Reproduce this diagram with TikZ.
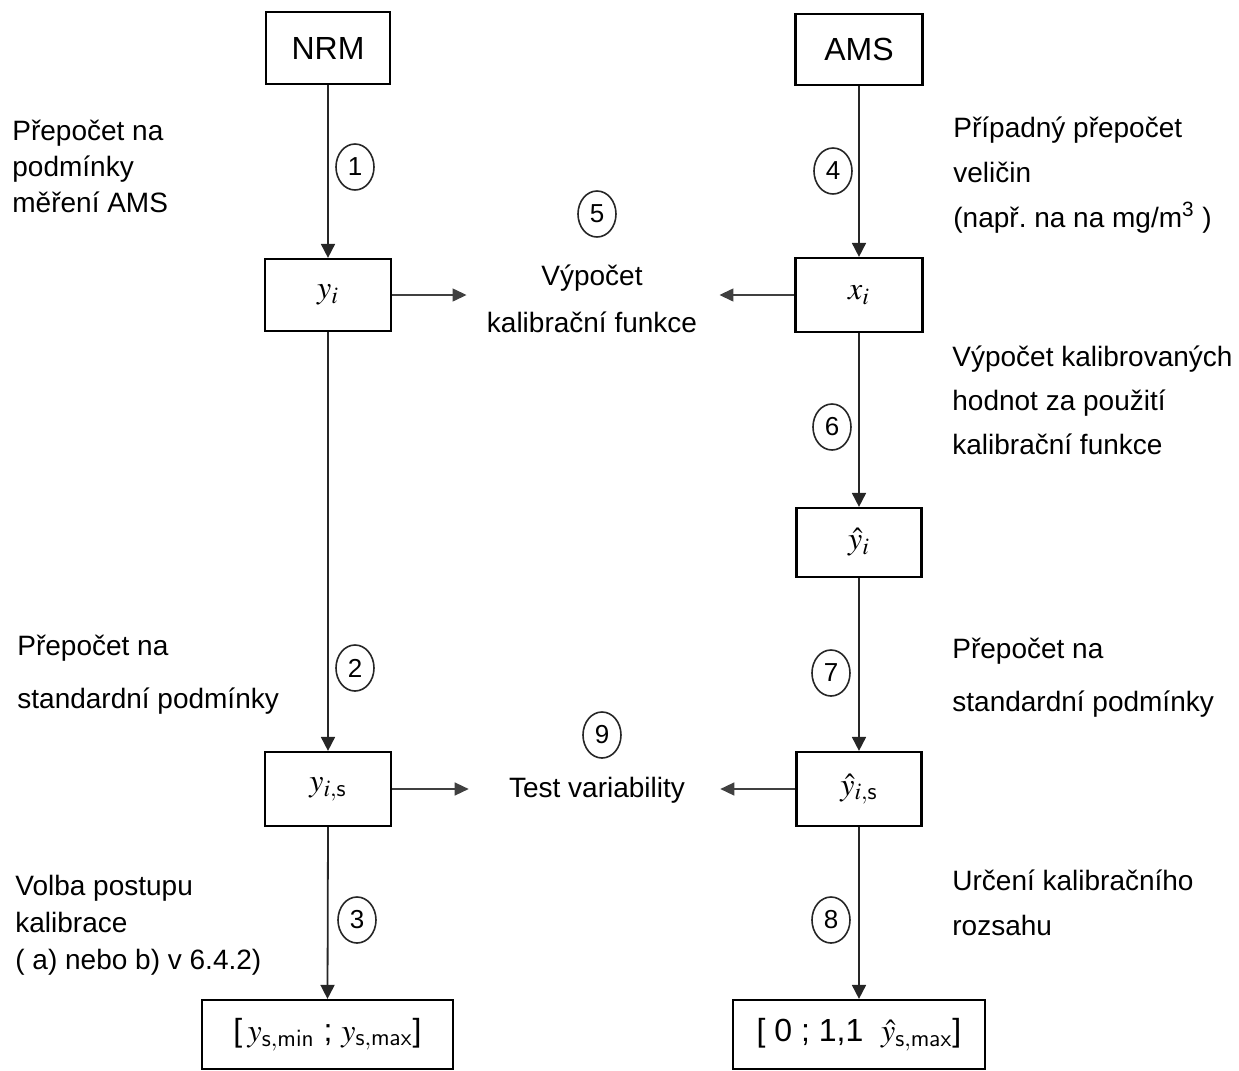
\documentclass[tikz,border=0pt]{standalone}
\usepackage{mathptmx}
\usepackage{fontspec}
\setmainfont{Liberation Sans}
\setsansfont{Liberation Sans}
\usetikzlibrary{arrows.meta,shapes.geometric}
\frenchspacing
\begin{document}
\begin{tikzpicture}[x=0.5pt,y=-0.5pt,
  box/.style={draw, line width=1.1pt, inner sep=0pt, font=\fontsize{16}{19}\selectfont},
  num/.style={draw=black!85, ellipse, line width=0.8pt, inner sep=0pt, minimum width=19pt, minimum height=23pt, font=\fontsize{13}{15}\selectfont},
  lbl/.style={anchor=base west, align=left, inner sep=0pt, font=\fontsize{14}{#1}\selectfont},
  mid/.style={align=center, inner sep=0pt, font=\fontsize{14}{23.5}\selectfont},
  flow/.style={draw=black!85, line width=0.9pt, -{Triangle[length=7pt,width=7pt]}},
  side/.style={draw=black!75, line width=0.7pt, -{Triangle[length=7pt,width=6.5pt]}},
]
\useasboundingbox (0,0) rectangle (1239,1071);

% boxes
\node[box, minimum width=62pt, minimum height=36pt] (nrm) at (328,48) {NRM};
\node[box, minimum width=63.5pt, minimum height=35.5pt] (ams) at (859,49.5) {AMS};
\node[box, minimum width=63pt, minimum height=36pt] (yi) at (328,295) {$y_i$};
\node[box, minimum width=63.5pt, minimum height=37pt] (xi) at (859,295) {$x_i$};
\node[box, minimum width=62.5pt, minimum height=34.5pt] (yhi) at (859,542.5) {$\hat{y}_i$};
\node[box, minimum width=63pt, minimum height=37pt] (yis) at (328,789) {$y_{i,\mathsf{s}}$};
\node[box, minimum width=62.5pt, minimum height=37pt] (yhis) at (859,789) {$\hat{y}_{i,\mathsf{s}}$};
\node[box, minimum width=125.5pt, minimum height=34.5pt] (rl) at (327.5,1034.5) {[\,$y_{\mathsf{s,min}}$\ ;\ $y_{\mathsf{s,max}}$]};
\node[box, minimum width=126pt, minimum height=34.5pt] (rr) at (859,1034.5) {[\ 0\ ;\ 1,1\ \ $\hat{y}_{\mathsf{s,max}}$]};

% centre texts
\node[mid] (calc) at (592,299) {Výpočet\\kalibrační funkce};
\node[anchor=base, inner sep=0pt, font=\fontsize{14}{17}\selectfont] (test) at (597,797) {Test variability};

% numbered ellipses
\node[num] (c1) at (355,167) {1};
\node[num] (c4) at (833,171) {4};
\node[num] (c5) at (597,214) {5};
\node[num] (c6) at (832,427) {6};
\node[num] (c2) at (355,668) {2};
\node[num] (c7) at (831,673) {7};
\node[num] (c9) at (602,735) {9};
\node[num] (c3) at (357,920) {3};
\node[num] (c8) at (831,920) {8};

% side labels (anchored at the baseline of their last line)
\node[lbl=18pt] (t1) at (12,212) {Přepočet na\\podmínky\\měření AMS};
\node[lbl=22.5pt] (t4) at (953,227) {Případný přepočet\\veličin\\(např. na na mg/m\textsuperscript{3} )};
\node[lbl=22pt] (t6) at (952,454) {Výpočet kalibrovaných\\hodnot za použití\\kalibrační funkce};
\node[lbl=26.5pt] (t2) at (17,708) {Přepočet na\\standardní podmínky};
\node[lbl=26.5pt] (t7) at (952,711) {Přepočet na\\standardní podmínky};
\node[lbl=18.5pt] (t3) at (15,969) {Volba postupu\\kalibrace\\( a) nebo b) v 6.4.2)};
\node[lbl=22.5pt] (t8) at (952,935) {Určení kalibračního\\rozsahu};

% vertical flow
\draw[flow] (nrm.south) -- (yi.north);
\draw[flow] (yi.south) -- (yis.north);
\draw[flow] (yis.south) -- (rl.north);
\draw[flow] (ams.south) -- (xi.north);
\draw[flow] (xi.south) -- (yhi.north);
\draw[flow] (yhi.south) -- (yhis.north);
\draw[flow] (yhis.south) -- (rr.north);

% horizontal arrows
\draw[side, shorten >=10pt] (yi.east) -- (yi.east -| calc.west);
\draw[side, shorten >=11pt] (xi.west) -- (xi.west -| calc.east);
\draw[side, shorten >=20pt] (yis.east) -- (yis.east -| test.west);
\draw[side, shorten >=17.5pt] (yhis.west) -- (yhis.west -| test.east);
\end{tikzpicture}
\end{document}
